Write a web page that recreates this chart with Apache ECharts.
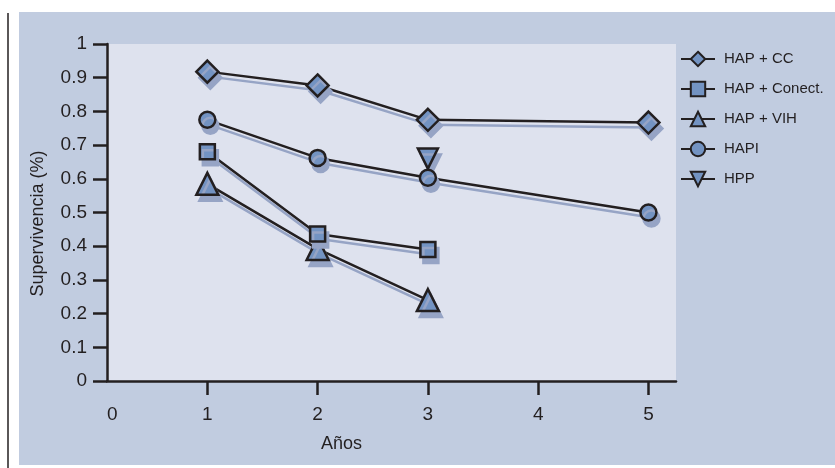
<!DOCTYPE html>
<html>
<head>
<meta charset="utf-8">
<script src="https://cdn.jsdelivr.net/npm/echarts@6/dist/echarts.min.js"></script>
<style>
html,body{margin:0;padding:0;background:#ffffff;}
#chart{width:835px;height:468px;}
</style>
</head>
<body>
<div id="chart"></div>
<script>
// ---- data ----
const years = [1, 2, 3, 5];
const seriesNames = ['HAP + CC', 'HAP + Conect.', 'HAP + VIH', 'HAPI', 'HPP'];
const hapCC     = [0.918, 0.877, 0.775, 0.767];
const hapConect = [0.680, 0.436, 0.390, null];
const hapVIH    = [0.585, 0.392, 0.240, null];
const hapi      = [0.775, 0.662, 0.603, 0.500];
const hpp       = [null, null, 0.660, null];
const xTickValues = [1, 2, 3, 4, 5];
const xTickLabels = ['0', '1', '2', '3', '4', '5'];
const yAxisTitle = 'Supervivencia (%)';
const xAxisTitle = 'Años';

const FONT = '"Liberation Sans", Arial, sans-serif';
const INK = '#231f20';
const FILL = '#7393c2';
const SHADOW = '#96a4c5';
const X_MIN = 0.09, X_MAX = 5.25;

function pairs(vals) {
  return years.map((x, i) => vals[i] == null ? null : [x, vals[i]]).filter(d => d);
}

const symbols = [
  {symbol: 'diamond', size: 22, rotate: 0},
  {symbol: 'rect', size: 15, rotate: 0},
  {symbol: 'triangle', size: 22, rotate: 0},
  {symbol: 'circle', size: 16, rotate: 0},
  {symbol: 'triangle', size: 20, rotate: 180}
];
const allValues = [hapCC, hapConect, hapVIH, hapi, hpp];

const series = seriesNames.map((name, k) => ({
  name: name,
  type: 'line',
  data: pairs(allValues[k]),
  symbol: symbols[k].symbol,
  symbolSize: symbols[k].size,
  symbolRotate: symbols[k].rotate,
  showAllSymbol: true,
  animation: false,
  z: 10 - k,
  lineStyle: {color: INK, width: 2.5, shadowColor: SHADOW, shadowOffsetX: 2, shadowOffsetY: 5, shadowBlur: 0},
  itemStyle: {color: FILL, borderColor: INK, borderWidth: 2.5, opacity: 1, shadowColor: SHADOW, shadowOffsetX: 3, shadowOffsetY: 6, shadowBlur: 0},
  emphasis: {disabled: true}
}));

const chart = echarts.init(document.getElementById('chart'), null, {renderer: 'canvas'});
chart.setOption({
  animation: false,
  backgroundColor: '#ffffff',
  textStyle: {fontFamily: FONT},
  graphic: [
    {type: 'rect', z: -10, shape: {x: 19, y: 12, width: 816, height: 453}, style: {fill: '#c1cce0'}},
    {type: 'line', z: -10, shape: {x1: 8, y1: 13, x2: 8, y2: 468}, style: {stroke: INK, lineWidth: 1.5}}
  ],
  grid: {
    left: 107, top: 44, right: 159, bottom: 87,
    show: true, backgroundColor: '#dee2ee', borderWidth: 0
  },
  legend: {
    orient: 'vertical',
    left: 675, top: 45,
    itemWidth: 34, itemHeight: 18, itemGap: 12,
    textStyle: {fontFamily: FONT, fontSize: 15, color: INK, lineHeight: 18, padding: [0, 0, 0, 4]},
    itemStyle: {shadowColor: 'rgba(0,0,0,0)', shadowOffsetX: 0, shadowOffsetY: 0, borderWidth: 2},
    lineStyle: {shadowColor: 'rgba(0,0,0,0)', shadowOffsetX: 0, shadowOffsetY: 0, width: 2},
    data: seriesNames
  },
  xAxis: {
    type: 'value',
    min: X_MIN, max: X_MAX,
    name: xAxisTitle,
    nameLocation: 'middle',
    nameGap: 54,
    nameTextStyle: {fontFamily: FONT, fontSize: 18, color: INK, padding: [0, 100, 0, 0]},
    splitLine: {show: false},
    axisLine: {show: true, onZero: false, lineStyle: {color: INK, width: 2.5}},
    axisTick: {show: true, inside: false, length: 14, lineStyle: {color: INK, width: 2.5}, customValues: xTickValues},
    axisLabel: {
      show: true, margin: 24, fontFamily: FONT, fontSize: 19, color: INK,
      customValues: [X_MIN].concat(xTickValues),
      alignMinLabel: 'left',
      formatter: function (v) { return v < 0.5 ? xTickLabels[0] : xTickLabels[Math.round(v)]; }
    }
  },
  yAxis: {
    type: 'value',
    min: 0, max: 1, interval: 0.1,
    name: yAxisTitle,
    nameLocation: 'middle',
    nameGap: 60,
    nameTextStyle: {fontFamily: FONT, fontSize: 18, color: INK, padding: [0, 22, 0, 0]},
    splitLine: {show: false},
    axisLine: {show: true, onZero: false, lineStyle: {color: INK, width: 2.5}},
    axisTick: {show: true, inside: false, length: 14, lineStyle: {color: INK, width: 2.5}},
    axisLabel: {show: true, margin: 20, fontFamily: FONT, fontSize: 19, color: INK}
  },
  series: series
});
</script>
</body>
</html>
